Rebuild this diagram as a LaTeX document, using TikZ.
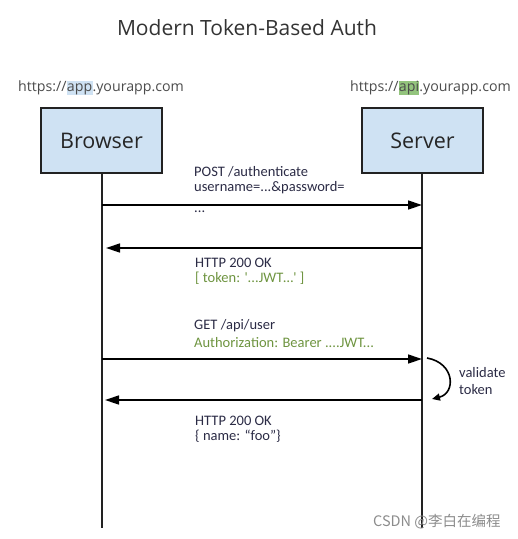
\documentclass[tikz,border=0pt]{standalone}
\usepackage{fontspec}
\setmainfont{Open Sans}
\newfontfamily\msgfont{Carlito}
\newfontfamily\cjkfont{Noto Sans CJK SC}
\usetikzlibrary{arrows.meta}
\definecolor{boxblue}{HTML}{CFE2F3}
\definecolor{hlgreen}{HTML}{93C47D}
\definecolor{msgdark}{HTML}{2B2B45}
\definecolor{msggreen}{HTML}{6E9440}
\definecolor{linegray}{HTML}{222222}
\newcommand\hlword[2]{{\setlength{\fboxsep}{0.3pt}\colorbox{#1}{\vphantom{Ap}#2}}}
\begin{document}
\begin{tikzpicture}[x=1pt,y=-1pt,
  actor/.style={draw=linegray,line width=1.4pt,fill=boxblue,minimum width=121pt,minimum height=65pt,inner sep=0pt,font=\fontsize{21.5}{26}\selectfont,text=black!85},
  lifeline/.style={draw=linegray,line width=1.4pt},
  msg/.style={draw=black,line width=1.4pt,-{Triangle[length=14pt,width=9pt]}},
  lbl/.style={anchor=west,inner sep=0pt,font=\msgfont\fontsize{14.5}{17}\selectfont},
  url/.style={inner sep=0pt,font=\fontsize{14.2}{17}\selectfont,text=black!70}
]
\useasboundingbox (0,0) rectangle (518,539);
\node[inner sep=0pt,font=\fontsize{21}{25}\selectfont,text=black!80] (title) at (247,28) {Modern Token-Based Auth};
\node[url,anchor=west] (urlA) at (18,88) {https://\hlword{boxblue}{app}.yourapp.com};
\node[url,anchor=east] (urlB) at (511,88) {https://\hlword{hlgreen}{api}.yourapp.com};
\node[actor] (browser) at (101.5,140.5) {Browser};
\node[actor] (server) at (422.5,140.5) {Server};
\coordinate (bEnd) at (102,528);
\coordinate (sEnd) at (422,528);
\draw[lifeline] (browser.south -| bEnd) -- (bEnd);
\draw[lifeline] (server.south -| sEnd) -- (sEnd);
% message points
\coordinate (b1) at (102,205); \coordinate (s1) at (422,205);
\coordinate (b2) at (106,248); \coordinate (s2) at (422,248);
\coordinate (b3) at (102,359); \coordinate (s3) at (422,359);
\coordinate (b4) at (105,400); \coordinate (s4) at (422,400);
\node[lbl,text=msgdark] (m1a) at (194,172) {POST /authenticate};
\node[lbl,text=msgdark] (m1b) at (194,188) {username=...\&password=};
\node[lbl,text=msgdark,anchor=base west] (m1c) at (194,212) {...};
\node[lbl,text=msgdark] (m2a) at (195,263) {HTTP 200 OK};
\node[lbl,text=msggreen] (m2b) at (195,278) {[ token: '...JWT\dots' ]};
\node[lbl,text=msgdark] (m3a) at (194,326) {GET /api/user};
\node[lbl,text=msggreen] (m3b) at (194,343) {Authorization: Bearer ....JWT...};
\node[lbl,text=msgdark] (m4a) at (195,421) {HTTP 200 OK};
\node[lbl,text=msgdark] (m4b) at (195,436) {\{ name: “foo”\}};
\draw[msg] (b1) -- (s1);
\draw[msg] (s2) -- (b2);
\draw[msg] (b3) -- (s3);
\draw[msg] (s4) -- (b4);
% validate loop
\coordinate (v1) at (427,358);
\coordinate (v2) at (432,399);
\draw[line width=1.6pt,-{Triangle[length=8pt,width=7pt]}] (v1) .. controls (455,363) and (456,393) .. (v2);
\node[lbl,text=msgdark,align=left,anchor=west] (val) at (459,381) {validate\\token};
\node[inner sep=0pt,anchor=west,font=\cjkfont\fontsize{14.5}{17}\selectfont,text=black!45] (wm) at (373,522) {CSDN @李白在编程};
\end{tikzpicture}
\end{document}
